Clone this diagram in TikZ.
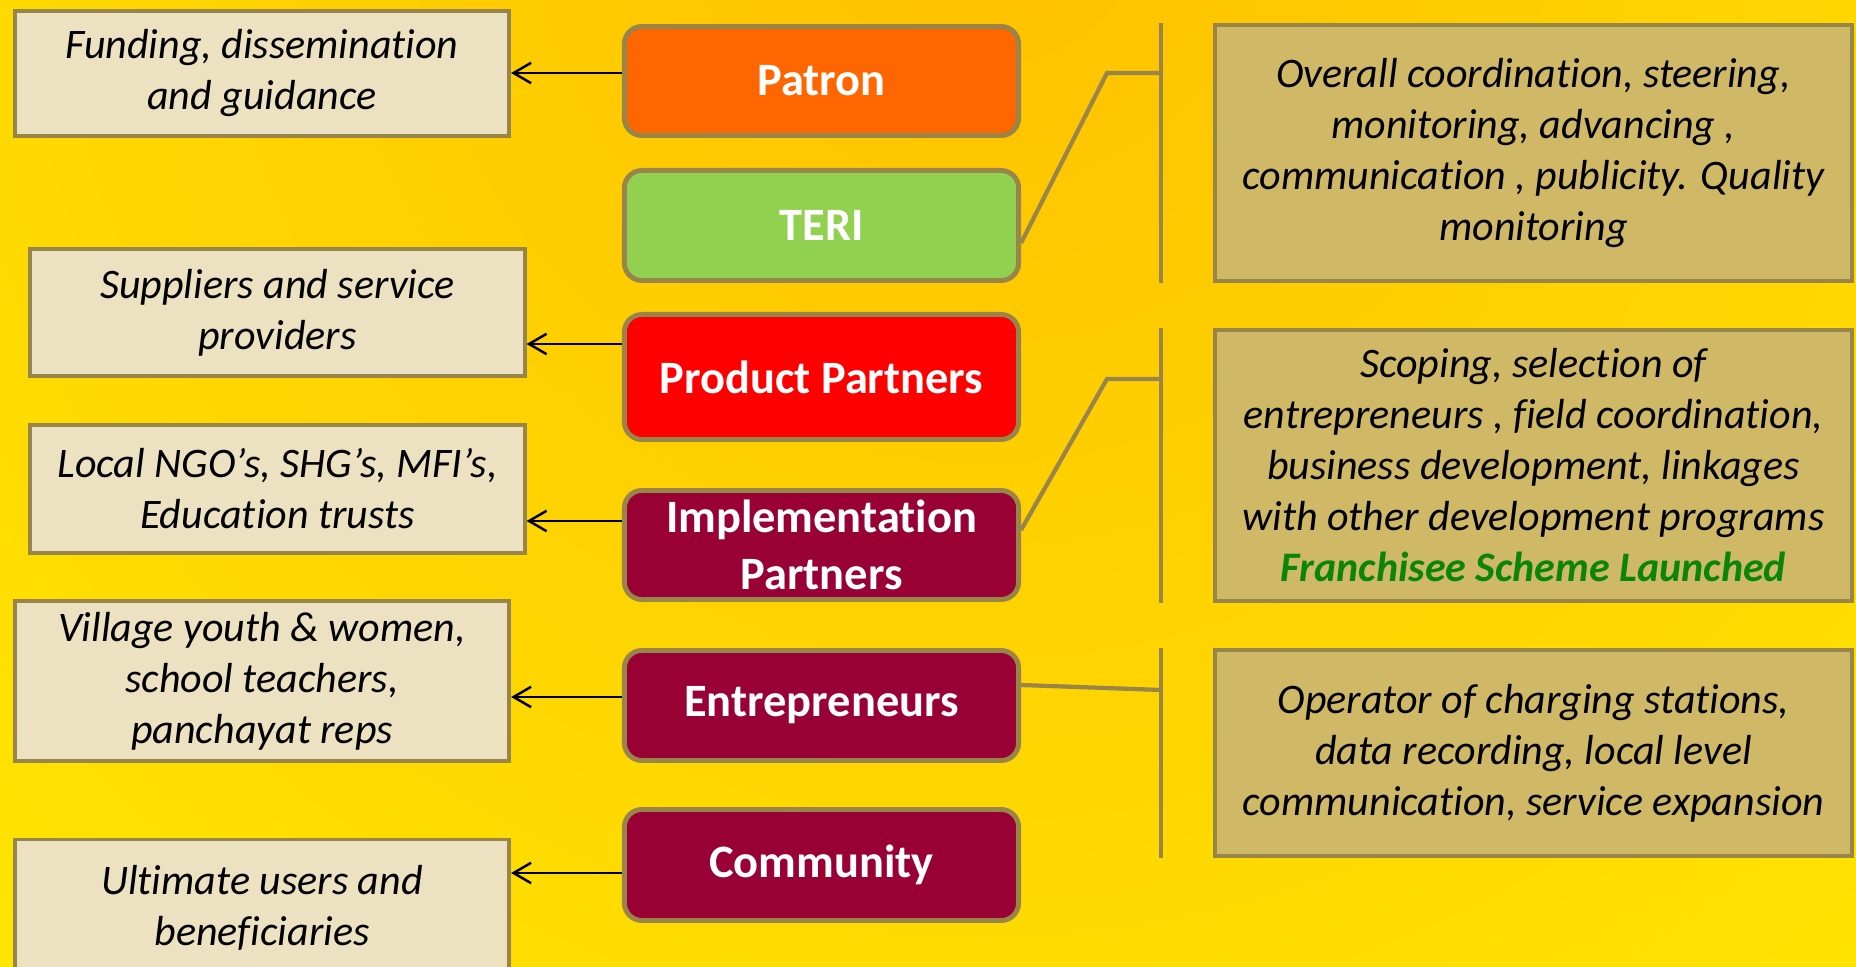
\documentclass[tikz,border=0pt]{standalone}
\usepackage{fontspec}
\setmainfont{Carlito}[Ligatures={NoCommon,NoRequired}, RawFeature={-clig;-dlig;-calt}]
\usetikzlibrary{arrows.meta}
\definecolor{bgin}{HTML}{FFC000}
\definecolor{bgout}{HTML}{FFF000}
\definecolor{edge}{HTML}{988549}
\definecolor{taskfill}{HTML}{ECE2C2}
\definecolor{dutyfill}{HTML}{CFB967}
\definecolor{patronfill}{HTML}{FF6600}
\definecolor{terifill}{HTML}{92D050}
\definecolor{prodfill}{HTML}{FF0000}
\definecolor{wine}{HTML}{990033}
\definecolor{franchgreen}{HTML}{0A850A}
\begin{document}
\begin{tikzpicture}[x=0.01cm, y=-0.01cm,
  task/.style={draw=edge, line width=1.1pt, fill=taskfill, minimum width=4.94cm, inner sep=0pt, align=center,
    font=\fontsize{11.95}{14.5}\selectfont\itshape},
  duty/.style={draw=edge, line width=1.1pt, fill=dutyfill, minimum width=6.37cm, inner sep=0pt, align=center,
    font=\fontsize{11.95}{14.5}\selectfont\itshape},
  role/.style={draw=edge, line width=1.4pt, rounded corners=5pt, minimum width=3.94cm, inner sep=0pt, align=center,
    text=white, font=\fontsize{13.2}{16.2}\selectfont\bfseries},
  link/.style={edge, line width=1.2pt},
  arr/.style={black, line width=0.7pt, -{Straight Barb[length=5pt,width=5.8pt]}}]
\useasboundingbox (0,0) rectangle (1856,967);
\clip (0,0) rectangle (1856,967);
\shade[inner color=bgin, outer color=bgout] (980,-110) circle (1900);

\node[task, minimum height=1.25cm] (fund) at (262,73.5) {Funding, dissemination\\and guidance};
\node[task, minimum height=1.27cm] (supp) at (277.5,312.5) {Suppliers and service\\providers};
\node[task, minimum height=1.28cm] (ngo) at (277.5,489) {Local NGO’s, SHG’s, MFI’s,\\Education trusts};
\node[task, minimum height=1.60cm] (vill) at (262,681) {Village youth \& women,\\school teachers,\\panchayat reps};
\node[task, minimum height=1.37cm] (ult) at (262,908) {Ultimate users and\\beneficiaries};

\node[role, fill=patronfill, minimum height=1.09cm] (patron) at (821.5,81) {Patron};
\node[role, fill=terifill, minimum height=1.10cm] (teri) at (821.5,225.5) {TERI};
\node[role, fill=prodfill, minimum height=1.25cm] (prod) at (821.5,377) {Product Partners};
\node[role, fill=wine, minimum height=1.09cm] (impl) at (821.5,545) {Implementation\\Partners};
\node[role, fill=wine, minimum height=1.10cm] (entr) at (821.5,705.5) {Entrepreneurs};
\node[role, fill=wine, minimum height=1.11cm] (comm) at (821.5,865) {Community};

\node[duty, minimum height=2.56cm] (r1) at (1533.5,153) {Overall coordination, steering,\\monitoring, advancing ,\\communication , publicity. Quality\\monitoring};
\node[duty, minimum height=2.71cm] (r2) at (1533.5,465.5) {Scoping, selection of\\entrepreneurs , field coordination,\\business development, linkages\\with other development programs\\{\color{franchgreen}\bfseries Franchisee Scheme Launched}};
\node[duty, minimum height=2.06cm] (r3) at (1533.5,753) {Operator of charging stations,\\data recording, local level\\communication, service expansion};

\foreach \a/\b/\y in {patron/fund/73, prod/supp/344, impl/ngo/521, entr/vill/697, comm/ult/873} {
 \draw[arr] (\a.west |- 0,\y) -- (\b.east |- 0,\y);
}
\foreach \r in {r1,r2,r3} {
 \draw[link] (\r.north -| 1161,0) -- (\r.south -| 1161,0);
}
\draw[link] (teri.east |- 0,243) -- (1107,73) -- (1161,73);
\draw[link] (impl.east |- 0,530) -- (1107,379) -- (1161,379);
\draw[link] (entr.east |- 0,685) -- (1161,690);
\end{tikzpicture}
\end{document}
